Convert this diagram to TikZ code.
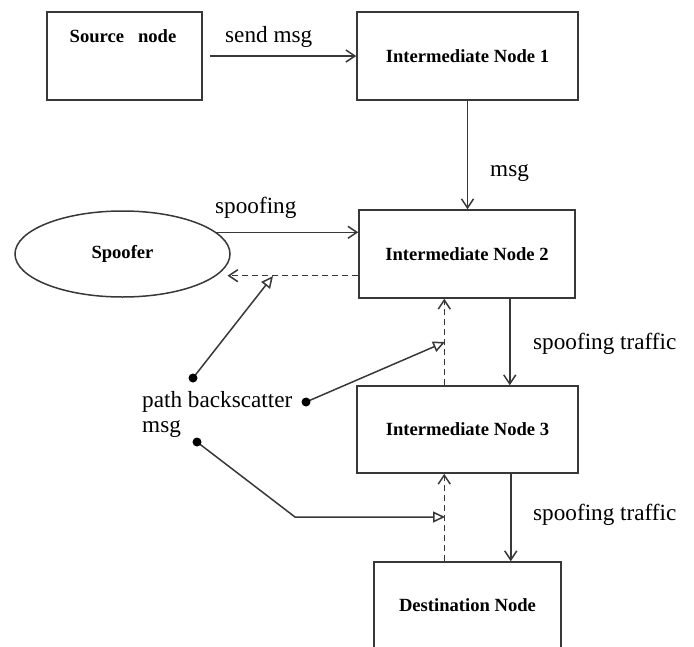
\documentclass[tikz,border=0pt]{standalone}
\usepackage{fontspec}
\setmainfont{Liberation Serif}
\usetikzlibrary{arrows.meta,shapes.geometric,calc}

% bold text inside the boxes, plain text for the edge labels
\newcommand\boxfont{\fontsize{18.6}{22}\selectfont\bfseries}
\newcommand\edgefont{\fontsize{23.2}{27}\selectfont}

\tikzset{
  ink/.style={draw=black!78, line width=1.5pt},
  box/.style={ink, rectangle, inner sep=0pt, font=\boxfont, text=black},
  boxtext/.style={inner sep=0pt, font=\boxfont, text=black},
  edgelabel/.style={inner sep=0pt, anchor=base west, font=\edgefont, text=black},
  flow/.style={ink, -{Straight Barb[length=9pt,width=12pt]}},
  backflow/.style={flow, dash pattern=on 6pt off 4pt},
  scatter/.style={ink, -{Triangle[open,length=12pt,width=11pt,fill=white]}},
  blob/.style={fill=black}
}

\begin{document}
\begin{tikzpicture}[x=1pt,y=-1pt]
\useasboundingbox (0,0) rectangle (694,646);

% boxes
\node[box, minimum width=155pt, minimum height=88pt] (src) at (124.5,56) {};
\node[boxtext, anchor=base] (srctext) at (123,42) {Source~~~node};
\node[box, minimum width=221pt, minimum height=88pt] (in1) at (467.5,56) {Intermediate Node 1};
\node[box, minimum width=216pt, minimum height=88pt] (in2) at (467,254) {Intermediate Node 2};
\node[box, minimum width=221pt, minimum height=87pt] (in3) at (467.5,429.5) {Intermediate Node 3};
\node[box, minimum width=187pt, minimum height=86pt] (dest) at (467.5,605) {Destination Node};
\node[ink, ellipse, minimum width=215pt, minimum height=86pt, inner sep=0pt,
      font=\boxfont, text=black] (spoof) at (122.5,254) {Spoofer};

% forward traffic
\draw[flow, shorten <=7pt] (src.east) -- (in1.west);
\node[edgelabel] (lblsend) at (225,42) {send msg};

\draw[flow] (in1.south) -- (in1.south |- in2.north);
\node[edgelabel] (lblmsg) at (490,176) {msg};

\draw[flow] (spoof.13.4) -- (spoof.13.4 -| in2.west);
\node[edgelabel] (lblspoof) at (215,213) {spoofing};

\draw[flow] ([xshift=-66pt]in2.south east) -- ([xshift=-66pt]in2.south east |- in3.north);
\node[edgelabel] (lbltraffic1) at (533,349) {spoofing traffic};

\draw[flow] ([xshift=-68pt]in3.south east) -- ([xshift=-68pt]in3.south east |- dest.north);
\node[edgelabel] (lbltraffic2) at (533,520) {spoofing traffic};

% backscatter paths
\draw[backflow, shorten >=11pt] (spoof.-13.4 -| in2.west) -- (spoof.-13.4);
\draw[backflow] ([xshift=88pt]in3.north west) -- ([xshift=88pt]in3.north west |- in2.south);
\draw[backflow] ([xshift=71pt]dest.north west) -- ([xshift=71pt]dest.north west |- in3.south);

% path backscatter message pointers
\node[edgelabel] (bstext) at (142,407) {path backscatter};
\node[edgelabel] (bsmsg) at (142,432) {msg};

\coordinate (d1) at (193,378);
\coordinate (h1) at (273,276);
\coordinate (d2) at (306,402);
\coordinate (h2) at (445,342);
\coordinate (d3) at (197,442);
\coordinate (k3) at (295,517);
\coordinate (h3) at (445,517);

\draw[scatter] (d1) -- (h1);
\draw[scatter] (d2) -- (h2);
\draw[scatter] (d3) -- (k3) -- (h3);
\fill[blob] (d1) circle (4.5pt);
\fill[blob] (d2) circle (4.5pt);
\fill[blob] (d3) circle (4.5pt);
\end{tikzpicture}
\end{document}
